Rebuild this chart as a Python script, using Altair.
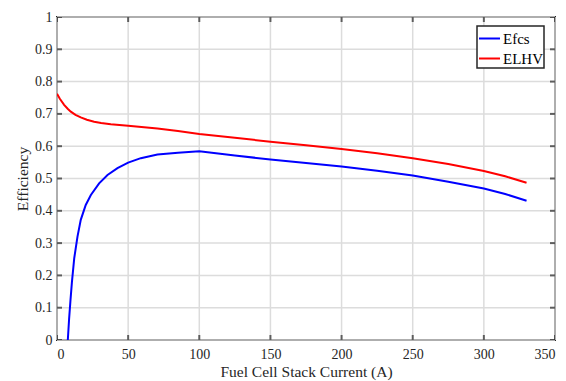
import altair as alt
import pandas as pd

efcs_x = [7.6, 8.5, 9.5, 10.5, 12.1, 14.4, 16.7, 20.2, 23.8, 29.6, 35.5, 42.5, 50, 58.9,
          70.6, 85, 100, 125, 150, 175, 200, 225, 250, 275, 300, 315, 330]
efcs_y = [0.0, 0.065, 0.125, 0.18, 0.253, 0.32, 0.372, 0.418, 0.449, 0.485, 0.511, 0.532,
          0.549, 0.563, 0.574, 0.580, 0.584, 0.571, 0.559, 0.548, 0.537, 0.524, 0.509,
          0.49, 0.469, 0.452, 0.431]
elhv_x = [0, 2, 5, 7.5, 9.7, 13, 16.7, 21, 26.1, 31, 37.8, 50, 70.6, 85, 100, 125, 150,
          175, 200, 225, 250, 275, 300, 315, 330]
elhv_y = [0.762, 0.747, 0.728, 0.716, 0.707, 0.697, 0.689, 0.682, 0.676, 0.672, 0.668,
          0.663, 0.655, 0.647, 0.638, 0.626, 0.614, 0.603, 0.591, 0.578, 0.5625, 0.545,
          0.523, 0.507, 0.487]
series_names = ["Efcs", "ELHV"]
series_colors = ["#0000ff", "#ff0000"]
x_ticks = [0, 50, 100, 150, 200, 250, 300, 350]
y_ticks = [0, 0.1, 0.2, 0.3, 0.4, 0.5, 0.6, 0.7, 0.8, 0.9, 1]
x_limits = [0, 350]
y_limits = [0, 1]

df = pd.concat([
    pd.DataFrame({"x": efcs_x, "y": efcs_y, "series": series_names[0], "order": range(len(efcs_x))}),
    pd.DataFrame({"x": elhv_x, "y": elhv_y, "series": series_names[1], "order": range(len(elhv_x))}),
])
xt = pd.DataFrame({"t": x_ticks})
yt = pd.DataFrame({"t": y_ticks})

FONT = "Liberation Serif"
TXT = "#262626"
GRID = "#dcdcdc"
xscale = alt.Scale(domain=x_limits, nice=False, zero=False)
yscale = alt.Scale(domain=y_limits, nice=False, zero=False)

XAX = alt.Axis(orient="bottom", values=x_ticks, title="Fuel Cell Stack Current (A)",
               ticks=False, tickSize=0, domain=False, grid=False,
               labelPadding=7, titlePadding=3, labelFontSize=14, titleFontSize=15.5,
               labelFont=FONT, titleFont=FONT, labelColor=TXT, titleColor=TXT,
               titleFontWeight="normal")
YAX = alt.Axis(orient="left", values=y_ticks, format="~g", title="Efficiency",
               ticks=False, tickSize=0, domain=False, grid=False,
               labelPadding=5, titlePadding=4, labelFontSize=14, titleFontSize=15.5,
               labelFont=FONT, titleFont=FONT, labelColor=TXT, titleColor=TXT,
               titleFontWeight="normal")

grid_x = alt.Chart(xt).mark_rule(color=GRID, strokeWidth=1.5).encode(
    x=alt.X("t:Q", scale=xscale, axis=XAX))
grid_y = alt.Chart(yt).mark_rule(color=GRID, strokeWidth=1.5).encode(
    y=alt.Y("t:Q", scale=yscale, axis=YAX))

lines = alt.Chart(df).mark_line(strokeWidth=2, clip=True).encode(
    x=alt.X("x:Q", scale=xscale, axis=XAX),
    y=alt.Y("y:Q", scale=yscale, axis=YAX),
    color=alt.Color("series:N", scale=alt.Scale(domain=series_names, range=series_colors),
                    legend=alt.Legend(title=None, orient="none", legendX=420, legendY=9,
                                      symbolType="stroke", symbolSize=440, symbolStrokeWidth=2,
                                      labelFont=FONT, labelFontSize=15, labelColor="#000000",
                                      strokeColor="#262626", fillColor="#ffffff", padding=1,
                                      rowPadding=-3, labelOffset=2)),
    order="order:Q",
)

# inward tick marks on all four sides (half of each tick is clipped away by the frame)
tick_bottom = alt.Chart(xt).mark_tick(orient="vertical", size=10, thickness=2, color=TXT, clip=True).encode(
    x=alt.X("t:Q", scale=xscale, axis=XAX), y=alt.YDatum(y_limits[0], scale=yscale, axis=YAX))
tick_top = alt.Chart(xt).mark_tick(orient="vertical", size=10, thickness=2, color=TXT, clip=True).encode(
    x=alt.X("t:Q", scale=xscale, axis=XAX), y=alt.YDatum(y_limits[1], scale=yscale, axis=YAX))
tick_left = alt.Chart(yt).mark_tick(orient="horizontal", size=10, thickness=2, color=TXT, clip=True).encode(
    y=alt.Y("t:Q", scale=yscale, axis=YAX), x=alt.XDatum(x_limits[0], scale=xscale, axis=XAX))
tick_right = alt.Chart(yt).mark_tick(orient="horizontal", size=10, thickness=2, color=TXT, clip=True).encode(
    y=alt.Y("t:Q", scale=yscale, axis=YAX), x=alt.XDatum(x_limits[1], scale=xscale, axis=XAX))

chart = alt.layer(grid_x, grid_y, lines, tick_bottom, tick_top, tick_left, tick_right).properties(
    width=498, height=323,
    autosize=alt.AutoSizeParams(type="none"),
    padding={"left": 57, "top": 17, "right": 11, "bottom": 41},
    background="#ffffff",
).configure(
    font=FONT
).configure_axis(
    labelFont=FONT, titleFont=FONT
).configure_view(
    stroke=TXT, strokeWidth=2
).configure_legend(
    strokeWidth=1.5, cornerRadius=0
)

chart.save("out.html", embed_options={"renderer": "svg", "actions": False})
